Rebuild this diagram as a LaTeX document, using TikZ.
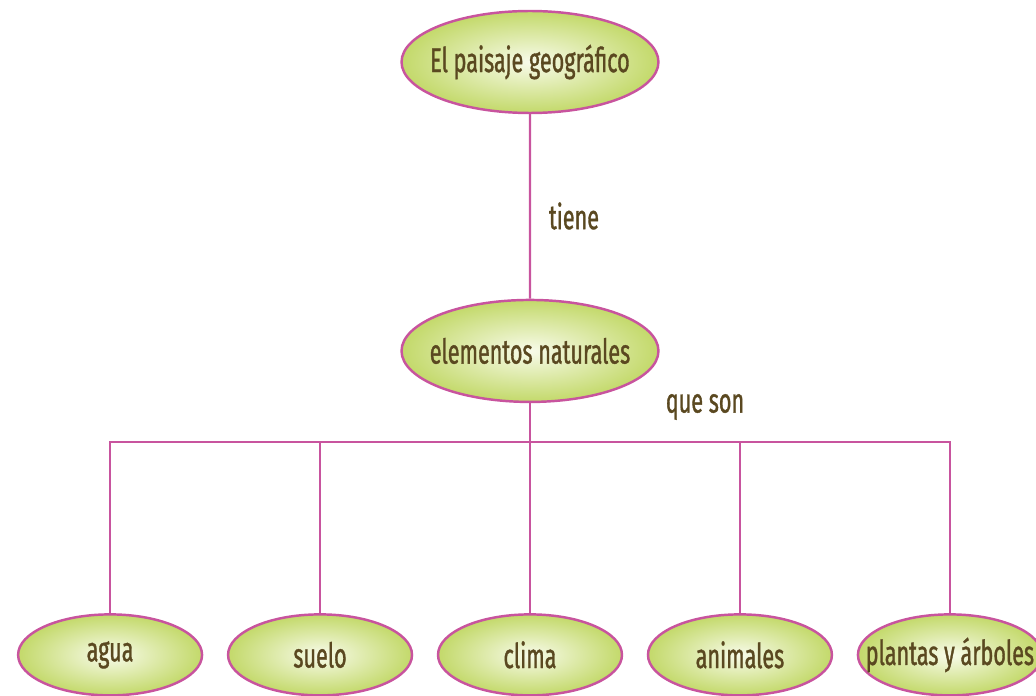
\documentclass[tikz,border=0pt]{standalone}
\usepackage{fontspec}
\setmainfont{Fira Sans}[FakeStretch=0.63,FakeBold=1]
\usetikzlibrary{shapes.geometric}
\definecolor{mapgreen}{HTML}{C3D96A}
\definecolor{mapcenter}{HTML}{F8FBEA}
\definecolor{mappink}{HTML}{C8549E}
\definecolor{maptext}{HTML}{5A4820}

\begin{document}
\begin{tikzpicture}[x=0.02cm,y=-0.02cm,
	concept/.style={ellipse,draw=mappink,line width=1.4pt,inner color=mapcenter,outer color=mapgreen,
		text=maptext,font=\fontsize{19.5}{21}\selectfont,inner xsep=-14pt,inner ysep=0pt},
	big/.style={concept,minimum width=5.14cm,minimum height=2.04cm},
	small/.style={concept,minimum width=3.68cm,minimum height=1.62cm},
	linkword/.style={text=maptext,font=\fontsize{19.5}{21}\selectfont,inner sep=0pt},
	edge from parent/.style={draw=mappink,line width=1.4pt},
	level 1/.style={level distance=5.78cm},
	level 2/.style={level distance=6.08cm,sibling distance=4.2cm,
		edge from parent path={(\tikzparentnode.south) -- ++(0,-0.78cm) -| (\tikzchildnode.north)}}]
	\useasboundingbox (0,0) rectangle (1036,696);
	\node [big] (paisaje) at (530,62) {El paisaje geográfico}
	child { node [big] (elementos) {elementos naturales}
		child { node [small] (agua) {agua} }
		child { node [small] (suelo) {suelo} }
		child { node [small] (clima) {clima} }
		child { node [small] (animales) {animales} }
		child { node [small] (plantas) {plantas y árboles} }
	};
	\node [linkword] (tiene) at (574,216) {tiene};
	\node [linkword] (queson) at (705,407) {que son};
\end{tikzpicture}
\end{document}
